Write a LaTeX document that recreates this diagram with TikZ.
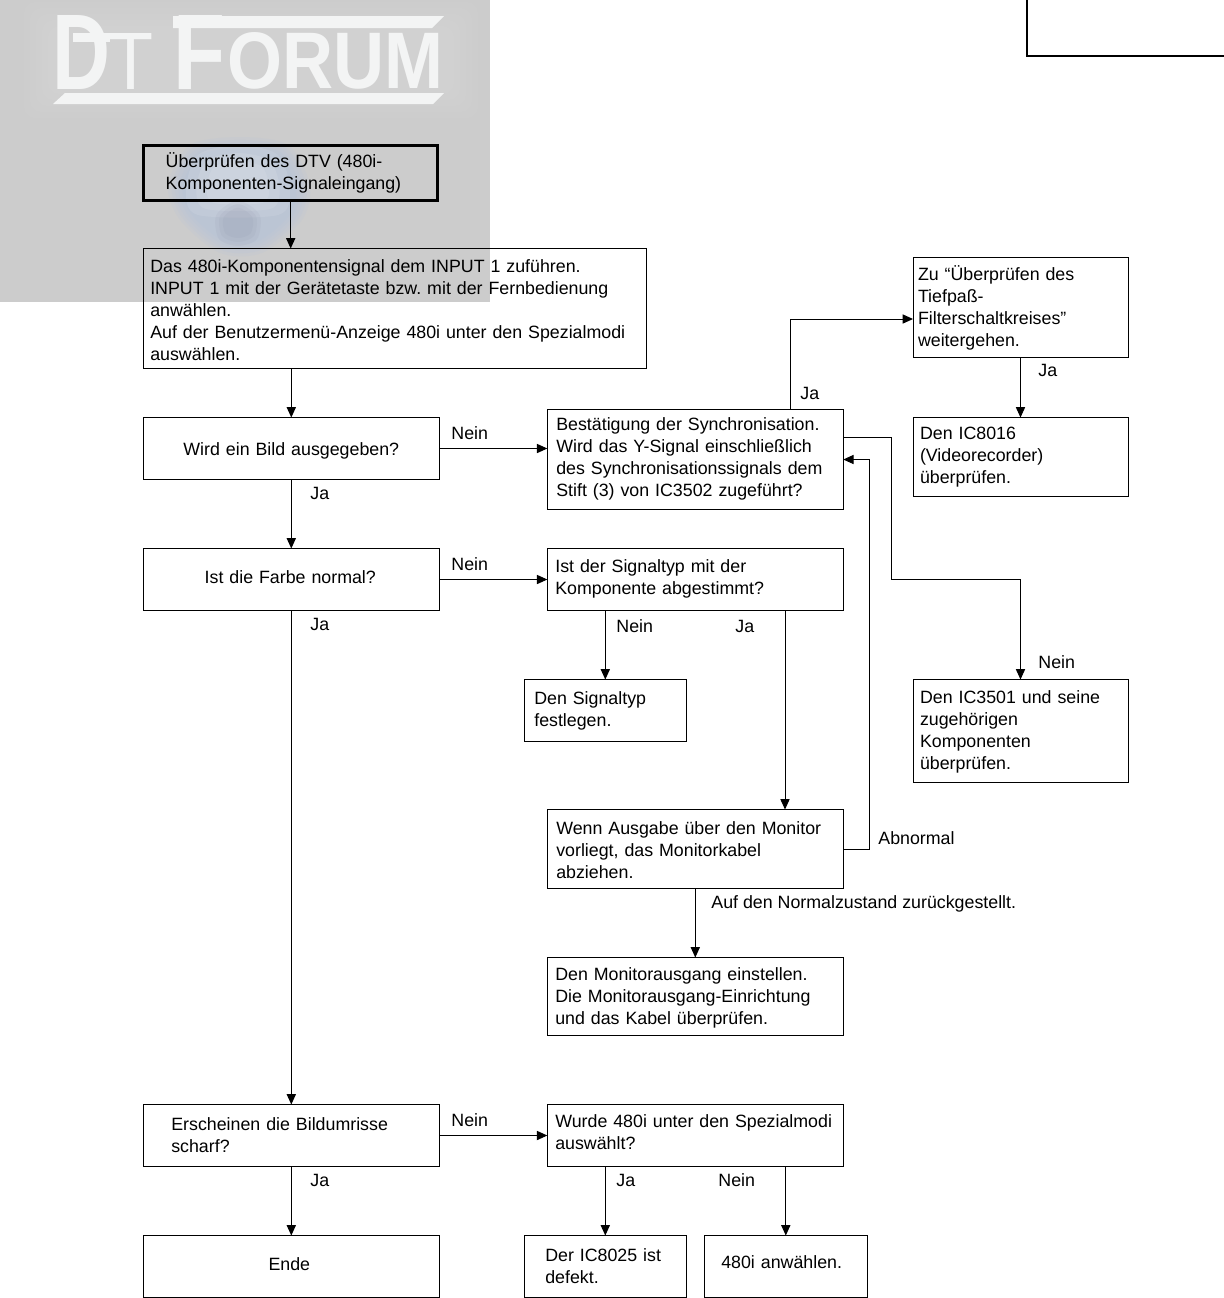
\documentclass[tikz,border=0pt]{standalone}
\usepackage{fontspec}
\setmainfont{Liberation Sans}
\frenchspacing
\usetikzlibrary{arrows.meta}
\definecolor{wzgrau}{HTML}{CCCCCC}
\definecolor{logoweiss}{HTML}{F3F4F4}
\newcommand{\oben}[1]{\rule{0pt}{#1pt}}
\newcommand{\unten}[1]{\rule[-#1pt]{0pt}{0pt}}
\tikzset{
  kasten/.style n args={3}{draw, line width=.5pt, outer sep=0pt, inner ysep=0pt, align=left,
    font=\fontsize{8.9}{11}\selectfont, minimum height=#2*.5pt, text width=(#1-2*#3)*.5pt, inner xsep=#3*.5pt},
  mitte/.style n args={2}{draw, line width=.5pt, outer sep=0pt, inner sep=0pt, align=center,
    font=\fontsize{8.9}{11}\selectfont, minimum height=#2*.5pt, text width=#1*.5pt},
  marke/.style={anchor=west, inner sep=0pt, font=\fontsize{8.9}{11}\selectfont},
  linie/.style={line width=.5pt},
  pfeil/.style={linie, -{Triangle[length=5.2pt,width=4.6pt]}},
  logo/.style={anchor=south west, inner sep=0pt, text=logoweiss}
}
\begin{document}
\begin{tikzpicture}[x=.5pt, y=-.5pt]
\useasboundingbox (0,0) rectangle (1224,1298);
% Wasserzeichen
\fill[wzgrau] (0,0) rectangle (490,302);
\foreach \r in {0,6,12,18,24}
  {\fill[white, opacity=.035, rounded corners=6pt] (24+\r,2+\r) rectangle (478-\r,118-\r);}
\foreach \s in {1,.95,.9,.85,.8}
  {\fill[cyan!50!blue!35!white, opacity=.09, shift={(240,195)}, scale=\s] plot[smooth cycle] coordinates {(0,-58) (48,-50) (70,-10) (62,25) (22,58) (-20,58) (-60,25) (-72,-10) (-50,-50)};}
\foreach \s in {1,.8,.6}
  {\fill[white, opacity=.1, shift={(238,185)}, scale=\s] plot[smooth cycle] coordinates {(0,-40) (40,-30) (52,5) (40,30) (-40,30) (-52,5) (-40,-30)};}
\foreach \s in {1.2,1,.8}
  {\fill[black!30!blue!15!gray, opacity=.06, shift={(238,222)}, scale=\s] plot[smooth cycle] coordinates {(0,-18) (18,-6) (16,14) (0,20) (-16,14) (-18,-6)};}
\node[logo, font=\bfseries] (logoD) at (52,89.5) {\resizebox{29pt}{37pt}{D}};
\node[logo] (logoT) at (108,89.5) {\resizebox{22.5pt}{28pt}{T}};
\node[logo, font=\bfseries] (logoF) at (173,89.5) {\resizebox{26pt}{37pt}{F}};
\node[logo, font=\bfseries] (logoO) at (227,89.5) {\resizebox{108pt}{28pt}{ORUM}};
\fill[logoweiss] (73,33) rectangle (110,42);
\fill[logoweiss] (173,16) -- (444,16) -- (432,28) -- (173,28) -- cycle;
\fill[logoweiss] (65,93) -- (444,93) -- (433,104) -- (53,104) -- cycle;
% Ecke oben rechts
\draw[line width=1pt] (1027,0) -- (1027,56) -- (1224,56);
% Kaesten
\node[kasten={294}{55}{22}, line width=1.5pt] (start) at (290.7,172.9) {Überprüfen des DTV (480i-\\Komponenten-Signaleingang)};
\node[kasten={503}{120}{7}] (input) at (394.8,308.5) {\oben{8.4}Das 480i-Komponentensignal dem INPUT 1 zuführen.\\INPUT 1 mit der Gerätetaste bzw. mit der Fernbedienung anwählen.\\Auf der Benutzermenü-Anzeige 480i unter den Spezialmodi auswählen.};
\node[mitte={296}{62}] (bild) at (291.3,448.5) {\oben{8.4}Wird ein Bild ausgegeben?};
\node[kasten={296}{100}{9}] (sync) at (695.3,459.5) {Bestätigung der Synchronisation.\\Wird das Y-Signal einschließlich\\des Synchronisationssignals dem\\Stift (3) von IC3502 zugeführt?\unten{2.9}};
\node[kasten={215}{100}{5}] (tief) at (1020.5,307.5) {Zu “Überprüfen des\\Tiefpaß-\\Filterschaltkreises”\\weitergehen.};
\node[kasten={215}{79}{7}] (videorec) at (1020.5,457) {Den IC8016\\(Videorecorder)\\überprüfen.};
\node[mitte={296}{62}] (farbe) at (291.3,579.5) {\hspace*{-1pt}Ist die Farbe normal?\unten{2.1}};
\node[kasten={296}{62}{8}] (signaltyp) at (695.3,579.5) {Ist der Signaltyp mit der\\Komponente abgestimmt?\unten{2.9}};
\node[kasten={162}{62}{10}] (festlegen) at (605.3,710.5) {Den Signaltyp\\festlegen.};
\node[kasten={215}{103}{7}] (ic3501) at (1020.5,731) {\oben{7.4}Den IC3501 und seine\\zugehörigen\\Komponenten\\überprüfen.};
\node[kasten={296}{79}{9}] (monitor) at (695.3,849) {\oben{7.4}Wenn Ausgabe über den Monitor\\vorliegt, das Monitorkabel\\abziehen.};
\node[kasten={296}{78}{8}] (einstellen) at (695.3,996.5) {\oben{7.4}Den Monitorausgang einstellen.\\Die Monitorausgang-Einrichtung\\und das Kabel überprüfen.};
\node[kasten={296}{62}{28}] (umrisse) at (291.3,1135.5) {Erscheinen die Bildumrisse\\scharf?};
\node[kasten={296}{62}{8}] (spezial) at (695.3,1135.5) {Wurde 480i unter den Spezialmodi\\auswählt?\unten{3}};
\node[mitte={296}{62}] (ende) at (291.3,1266.5) {\hspace*{-2pt}Ende\unten{2}};
\node[kasten={162}{62}{21}] (ic8025) at (605.3,1266.5) {Der IC8025 ist\\defekt.};
\node[kasten={163}{62}{17}] (anwahl) at (785.8,1266.5) {480i anwählen.\unten{4}};
% Hilfspunkte
\coordinate (syncJa) at (790,409.5);
\coordinate (tiefEin) at (913,319);
\coordinate (syncNein) at (843.3,437);
\coordinate (knick) at (891,579);
\coordinate (rueck) at (869,459.5);
\coordinate (typJa) at (785,610.5);
% Verbindungen
\draw[pfeil] (start.south) -- (start.south |- input.north);
\draw[pfeil] (bild.north |- input.south) -- (bild.north);
\draw[pfeil] (bild.south) -- (farbe.north);
\draw[pfeil] (farbe.south) -- (umrisse.north);
\draw[pfeil] (umrisse.south) -- (ende.north);
\draw[pfeil] (bild.east) -- (bild.east -| sync.west);
\draw[pfeil] (farbe.east) -- (signaltyp.west);
\draw[pfeil] (umrisse.east) -- (spezial.west);
\draw[pfeil] (syncJa) |- (tiefEin);
\draw[pfeil] (tief.south) -- (videorec.north);
\draw[pfeil] (syncNein) -| (knick) -| (ic3501.north);
\draw[pfeil] (festlegen.north |- signaltyp.south) -- (festlegen.north);
\draw[pfeil] (typJa) -- (typJa |- monitor.north);
\draw[pfeil] (monitor.east) -| (rueck) -- (sync.east);
\draw[pfeil] (monitor.south) -- (einstellen.north);
\draw[pfeil] (ic8025.north |- spezial.south) -- (ic8025.north);
\draw[pfeil] (anwahl.north |- spezial.south) -- (anwahl.north);
% Beschriftungen
\foreach \px/\py/\txt [count=\i] in {451/433/Nein, 310/493/Ja, 800/393/Ja, 1038/370/Ja, 451/564/Nein, 310/624/Ja, 616/626/Nein, 735/626/Ja, 1038/662/Nein, 878/838/Abnormal, 711/904/Auf den Normalzustand zurückgestellt., 451/1120/Nein, 310/1180/Ja, 616/1180/Ja, 718/1180/Nein}
  {\node[marke] (label\i) at (\px,\py) {\txt};}
\end{tikzpicture}
\end{document}
